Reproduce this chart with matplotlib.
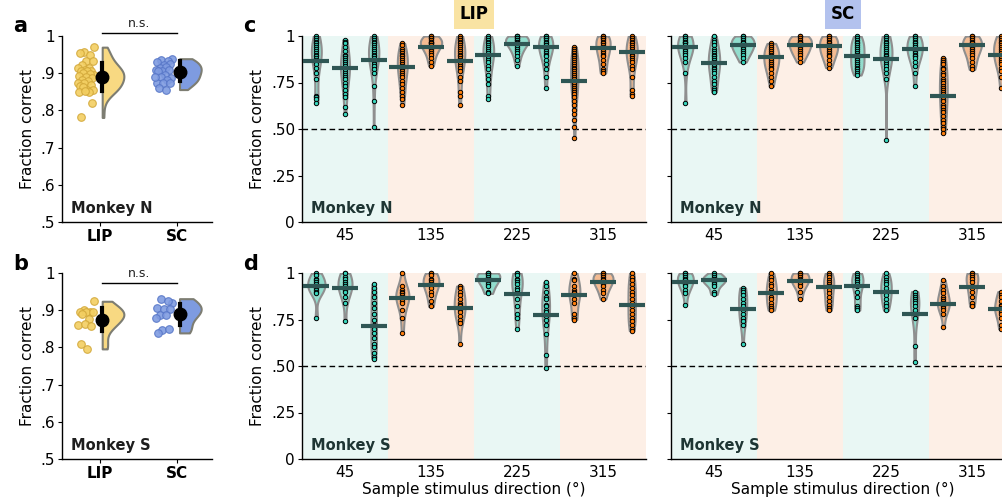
import matplotlib.pyplot as plt
import numpy as np
from matplotlib import cbook, mlab

plt.rcParams['font.family'] = ['DejaVu Sans']
plt.rcParams['axes.linewidth'] = 1.0

# ---- panel a / b: session-average fraction correct ----
areas = ['LIP', 'SC']
lip_n_sessions = [0.970, 0.956, 0.950, 0.954, 0.932, 0.932, 0.923, 0.914, 0.914, 0.909,
                  0.907, 0.907, 0.905, 0.896, 0.900, 0.898, 0.892, 0.889, 0.887, 0.883,
                  0.880, 0.874, 0.874, 0.869, 0.865, 0.856, 0.856, 0.862, 0.850, 0.850,
                  0.851, 0.820, 0.781]
sc_n_sessions = [0.939, 0.936, 0.934, 0.929, 0.923, 0.925, 0.914, 0.916, 0.909, 0.905,
                 0.909, 0.905, 0.896, 0.887, 0.889, 0.883, 0.874, 0.874, 0.874, 0.860,
                 0.856, 0.891]
lip_s_sessions = [0.924, 0.900, 0.895, 0.895, 0.895, 0.895, 0.891, 0.877, 0.861, 0.863,
                  0.857, 0.809, 0.796]
sc_s_sessions = [0.920, 0.931, 0.924, 0.906, 0.904, 0.902, 0.888, 0.886, 0.879, 0.848,
                 0.850, 0.839]
n_means = [0.889, 0.903]
n_ci = [(0.851, 0.927), (0.880, 0.932)]
s_means = [0.875, 0.890]
s_ci = [(0.843, 0.906), (0.861, 0.918)]

# ---- panel c / d: fraction correct per sample direction ----
directions = ['45', '135', '225', '315']

lip_n = [
    [1.0, 0.99, 0.98, 0.97, 0.96, 0.95, 0.94, 0.93, 0.92, 0.91, 0.90, 0.89, 0.88, 0.87, 0.86, 0.85, 0.83, 0.80, 0.77, 0.68, 0.67, 0.66, 0.64],
    [0.98, 0.97, 0.96, 0.94, 0.92, 0.90, 0.89, 0.88, 0.87, 0.86, 0.85, 0.84, 0.83, 0.82, 0.81, 0.80, 0.79, 0.78, 0.77, 0.75, 0.73, 0.71, 0.69, 0.67, 0.62, 0.58],
    [1.0, 0.99, 0.98, 0.97, 0.96, 0.95, 0.94, 0.93, 0.92, 0.91, 0.90, 0.89, 0.88, 0.87, 0.86, 0.85, 0.84, 0.82, 0.80, 0.73, 0.65, 0.51],
    [0.96, 0.95, 0.93, 0.92, 0.91, 0.90, 0.89, 0.88, 0.87, 0.86, 0.85, 0.84, 0.83, 0.82, 0.81, 0.80, 0.79, 0.78, 0.76, 0.74, 0.72, 0.70, 0.68, 0.66, 0.63],
    [1.0, 1.0, 0.99, 0.99, 0.98, 0.97, 0.97, 0.96, 0.96, 0.95, 0.95, 0.94, 0.93, 0.92, 0.91, 0.90, 0.88, 0.86, 0.84],
    [1.0, 0.99, 0.98, 0.97, 0.96, 0.95, 0.94, 0.93, 0.92, 0.91, 0.90, 0.89, 0.88, 0.87, 0.86, 0.85, 0.84, 0.83, 0.81, 0.78, 0.76, 0.70, 0.68, 0.63],
    [1.0, 0.99, 0.98, 0.97, 0.96, 0.95, 0.94, 0.93, 0.92, 0.91, 0.90, 0.89, 0.88, 0.87, 0.86, 0.84, 0.82, 0.79, 0.77, 0.74, 0.68, 0.66],
    [1.0, 1.0, 1.0, 0.99, 0.99, 0.98, 0.98, 0.97, 0.97, 0.96, 0.96, 0.95, 0.94, 0.93, 0.92, 0.91, 0.89, 0.87, 0.84],
    [1.0, 1.0, 0.99, 0.99, 0.98, 0.97, 0.96, 0.95, 0.95, 0.94, 0.93, 0.92, 0.91, 0.90, 0.89, 0.87, 0.85, 0.82, 0.78, 0.72],
    [0.94, 0.93, 0.92, 0.91, 0.90, 0.89, 0.88, 0.87, 0.86, 0.85, 0.84, 0.83, 0.82, 0.81, 0.80, 0.79, 0.78, 0.77, 0.76, 0.75, 0.74, 0.73, 0.72, 0.71, 0.70, 0.69, 0.67, 0.65, 0.63, 0.60, 0.58, 0.55, 0.51, 0.45],
    [1.0, 1.0, 0.99, 0.99, 0.98, 0.97, 0.96, 0.95, 0.94, 0.93, 0.92, 0.91, 0.90, 0.89, 0.87, 0.85, 0.82, 0.81, 0.80],
    [1.0, 0.99, 0.98, 0.97, 0.96, 0.95, 0.94, 0.93, 0.92, 0.91, 0.90, 0.89, 0.88, 0.87, 0.86, 0.84, 0.82, 0.78, 0.71, 0.69, 0.675],
]
lip_n_means = [0.868, 0.829, 0.871, 0.834, 0.943, 0.868, 0.896, 0.955, 0.939, 0.757, 0.937, 0.916]

sc_n = [
    [1.0, 1.0, 0.99, 0.98, 0.97, 0.97, 0.96, 0.95, 0.94, 0.93, 0.92, 0.91, 0.90, 0.88, 0.86, 0.80, 0.64],
    [1.0, 0.98, 0.97, 0.95, 0.93, 0.92, 0.91, 0.90, 0.89, 0.88, 0.87, 0.86, 0.85, 0.84, 0.83, 0.82, 0.81, 0.80, 0.78, 0.76, 0.74, 0.72, 0.71, 0.70],
    [1.0, 1.0, 0.99, 0.98, 0.97, 0.96, 0.96, 0.95, 0.94, 0.93, 0.92, 0.91, 0.90, 0.88, 0.86],
    [0.96, 0.95, 0.94, 0.93, 0.92, 0.91, 0.90, 0.89, 0.88, 0.87, 0.86, 0.85, 0.84, 0.83, 0.82, 0.80, 0.78, 0.76, 0.73],
    [1.0, 1.0, 0.99, 0.98, 0.97, 0.97, 0.96, 0.95, 0.94, 0.93, 0.92, 0.91, 0.90, 0.88, 0.86],
    [1.0, 1.0, 0.99, 0.98, 0.97, 0.96, 0.95, 0.94, 0.93, 0.92, 0.91, 0.90, 0.89, 0.87, 0.85, 0.83],
    [1.0, 0.99, 0.98, 0.97, 0.96, 0.95, 0.94, 0.93, 0.92, 0.91, 0.90, 0.89, 0.88, 0.87, 0.86, 0.85, 0.84, 0.83, 0.82, 0.81, 0.80, 0.79],
    [1.0, 0.99, 0.98, 0.97, 0.96, 0.95, 0.94, 0.93, 0.92, 0.91, 0.90, 0.89, 0.88, 0.87, 0.86, 0.85, 0.84, 0.82, 0.80, 0.77, 0.44],
    [1.0, 1.0, 0.99, 0.98, 0.97, 0.96, 0.95, 0.94, 0.93, 0.92, 0.91, 0.90, 0.89, 0.88, 0.86, 0.84, 0.80, 0.73],
    [0.88, 0.87, 0.86, 0.85, 0.83, 0.82, 0.80, 0.79, 0.77, 0.76, 0.75, 0.73, 0.72, 0.71, 0.70, 0.69, 0.68, 0.66, 0.65, 0.63, 0.62, 0.60, 0.59, 0.57, 0.55, 0.53, 0.51, 0.50, 0.48],
    [1.0, 1.0, 0.99, 0.98, 0.97, 0.96, 0.96, 0.95, 0.94, 0.93, 0.92, 0.91, 0.90, 0.88, 0.86, 0.84, 0.82],
    [1.0, 0.99, 0.98, 0.97, 0.96, 0.95, 0.94, 0.93, 0.92, 0.91, 0.90, 0.89, 0.88, 0.87, 0.86, 0.85, 0.83, 0.81, 0.78, 0.72],
]
sc_n_means = [0.943, 0.857, 0.954, 0.886, 0.952, 0.946, 0.893, 0.877, 0.930, 0.680, 0.950, 0.898]

lip_s = [
    [1.0, 0.99, 0.97, 0.96, 0.95, 0.94, 0.93, 0.92, 0.91, 0.90, 0.89, 0.76],
    [1.0, 1.0, 0.98, 0.97, 0.95, 0.94, 0.93, 0.92, 0.91, 0.90, 0.87, 0.84, 0.74],
    [0.94, 0.92, 0.90, 0.87, 0.84, 0.81, 0.78, 0.75, 0.72, 0.70, 0.68, 0.65, 0.62, 0.60, 0.57, 0.55, 0.54],
    [1.0, 0.93, 0.91, 0.90, 0.89, 0.88, 0.87, 0.86, 0.85, 0.84, 0.80, 0.76, 0.68],
    [1.0, 1.0, 0.99, 0.97, 0.96, 0.95, 0.94, 0.93, 0.92, 0.90, 0.88, 0.85, 0.82],
    [0.93, 0.92, 0.90, 0.88, 0.86, 0.84, 0.83, 0.82, 0.80, 0.79, 0.77, 0.75, 0.73, 0.62],
    [1.0, 1.0, 1.0, 0.99, 0.98, 0.97, 0.96, 0.95, 0.94, 0.93, 0.90, 0.89],
    [1.0, 1.0, 0.99, 0.97, 0.96, 0.95, 0.94, 0.92, 0.91, 0.89, 0.86, 0.82, 0.78, 0.76, 0.70],
    [0.95, 0.93, 0.90, 0.87, 0.86, 0.83, 0.82, 0.80, 0.79, 0.77, 0.75, 0.72, 0.67, 0.56, 0.49],
    [1.0, 0.97, 0.96, 0.93, 0.91, 0.90, 0.89, 0.88, 0.86, 0.84, 0.78, 0.76, 0.75],
    [1.0, 1.0, 0.99, 0.98, 0.97, 0.96, 0.95, 0.94, 0.93, 0.91, 0.89, 0.86],
    [1.0, 0.98, 0.96, 0.94, 0.92, 0.90, 0.88, 0.86, 0.84, 0.82, 0.80, 0.78, 0.76, 0.74, 0.72, 0.70, 0.69],
]
lip_s_means = [0.930, 0.921, 0.713, 0.866, 0.937, 0.814, 0.961, 0.885, 0.772, 0.884, 0.950, 0.830]

sc_s = [
    [1.0, 1.0, 0.99, 0.98, 0.97, 0.96, 0.95, 0.94, 0.93, 0.91, 0.89, 0.83],
    [1.0, 0.99, 0.98, 0.97, 0.97, 0.96, 0.96, 0.95, 0.94, 0.93, 0.90, 0.885],
    [0.92, 0.91, 0.90, 0.88, 0.86, 0.84, 0.82, 0.80, 0.78, 0.76, 0.74, 0.72, 0.62],
    [1.0, 0.98, 0.96, 0.94, 0.93, 0.91, 0.90, 0.89, 0.87, 0.86, 0.84, 0.82, 0.81, 0.80],
    [1.0, 1.0, 0.99, 0.98, 0.97, 0.96, 0.95, 0.94, 0.93, 0.90, 0.86],
    [1.0, 0.99, 0.98, 0.96, 0.95, 0.94, 0.93, 0.91, 0.89, 0.87, 0.85, 0.83, 0.81, 0.80],
    [1.0, 0.99, 0.98, 0.97, 0.96, 0.95, 0.94, 0.93, 0.90, 0.87, 0.82, 0.81, 0.80],
    [1.0, 0.98, 0.96, 0.95, 0.94, 0.92, 0.90, 0.89, 0.88, 0.86, 0.84, 0.82, 0.80],
    [0.90, 0.88, 0.87, 0.86, 0.85, 0.84, 0.82, 0.80, 0.78, 0.76, 0.61, 0.52],
    [0.96, 0.93, 0.91, 0.89, 0.87, 0.86, 0.85, 0.84, 0.83, 0.82, 0.81, 0.80, 0.78, 0.71],
    [1.0, 1.0, 0.99, 0.98, 0.97, 0.95, 0.93, 0.92, 0.90, 0.87, 0.84, 0.82],
    [0.90, 0.88, 0.87, 0.85, 0.83, 0.82, 0.81, 0.80, 0.79, 0.78, 0.76, 0.72, 0.70],
]
sc_s_means = [0.950, 0.961, 0.808, 0.892, 0.957, 0.925, 0.928, 0.898, 0.781, 0.835, 0.926, 0.805]

# colours
area_dot = ['#f3cf62', '#7f9be0']
area_dot_edge = ['#d3a93b', '#5877c8']
area_violin = ['#f8d982', '#7e9be0']
dir_dot = ['#38d6bc', '#ff7f0e']
dir_body = ['#92ddcd', '#f4bb92']
dir_bg = ['#e9f7f4', '#fdefe6']
mean_col = '#2f5654'

W, H = 1003, 500
fig = plt.figure(figsize=(W / 100, H / 100), dpi=100)


def box(left, top, right, bottom):
    return [left / W, 1 - bottom / H, (right - left) / W, (bottom - top) / H]


def kde(X, coords):
    return mlab.GaussianKDE(X, 'scott').evaluate(coords)


def area_panel(ax, lip, sc, means, cis, monkey, ns_y):
    ax.set_xlim(-0.49, 1.45)
    ax.set_ylim(0.5, 1.0)
    for j, vals in enumerate([lip, sc]):
        vals = np.array(vals)
        # spread the dots sideways (golden-ratio sequence, no randomness)
        off = -0.07 - 0.22 * ((np.arange(len(vals)) * 0.618) % 1)
        ax.scatter(j + off, vals, s=30, c=area_dot[j], edgecolors=area_dot_edge[j],
                   linewidths=0.8, alpha=0.9, zorder=2)
        vp = ax.violinplot([vals], positions=[j + 0.03], widths=0.56, side='high',
                           showextrema=False)
        for b in vp['bodies']:
            b.set_facecolor(area_violin[j])
            b.set_edgecolor('#7d7d72')
            b.set_linewidth(1.5)
            b.set_alpha(1)
        ax.plot([j + 0.03, j + 0.03], cis[j], color='black', lw=3, zorder=4)
        ax.plot(j + 0.03, means[j], 'o', color='black', ms=9, zorder=5)
    ax.plot([0.03, 1.0], [ns_y, ns_y], color='black', lw=1, clip_on=False)
    ax.text(0.51, ns_y + 0.008, 'n.s.', ha='center', va='bottom', fontsize=9, color='#222')
    ax.set_xticks([0, 1])
    ax.set_xticklabels(areas, fontsize=11, fontweight='semibold')
    ax.set_yticks([0.5, 0.6, 0.7, 0.8, 0.9, 1.0])
    ax.set_yticklabels(['.5', '.6', '.7', '.8', '.9', '1'], fontsize=11)
    ax.set_ylabel('Fraction correct', fontsize=11)
    ax.spines[['top', 'right']].set_visible(False)
    ax.tick_params(length=3, pad=2)
    ax.text(0.06, 0.05, monkey, transform=ax.transAxes, fontsize=10.5, fontweight='semibold',
            color='#1e1e1e')


def direction_panel(ax, groups, means, monkey, left_axis, xlabel):
    pos = np.arange(12)
    ax.set_xlim(-0.5, 11.5)
    ax.set_ylim(0, 1.0)
    for k in range(4):
        ax.axvspan(3 * k - 0.5, 3 * k + 2.5, color=dir_bg[k % 2], lw=0, zorder=0)
    stats = cbook.violin_stats(groups, kde, points=200)
    peaks = np.array([s['vals'].max() for s in stats])
    widths = 0.8 * peaks / peaks.max()
    parts = ax.violin(stats, positions=pos, widths=widths, showextrema=False)
    for i, b in enumerate(parts['bodies']):
        b.set_facecolor(dir_body[(i // 3) % 2])
        b.set_edgecolor('#8f8f8f')
        b.set_linewidth(1.5)
        b.set_alpha(1)
        b.set_zorder(2)
    for i, vals in enumerate(groups):
        ax.scatter(np.full(len(vals), pos[i]), vals, s=10, c=dir_dot[(i // 3) % 2],
                   edgecolors='black', linewidths=0.7, zorder=3, clip_on=False)
    ax.hlines(means, pos - 0.45, pos + 0.45, colors=mean_col, lw=3, zorder=4)
    ax.axhline(0.5, color='black', ls=(0, (4, 2.5)), lw=1, zorder=1)
    ax.set_xticks([1, 4, 7, 10])
    ax.set_xticklabels(directions, fontsize=11)
    ax.set_yticks([0, 0.25, 0.5, 0.75, 1.0])
    if left_axis:
        ax.set_yticklabels(['0', '.25', '.50', '.75', '1'], fontsize=11)
        ax.set_ylabel('Fraction correct', fontsize=11)
    else:
        ax.set_yticklabels([])
    if xlabel:
        ax.set_xlabel('Sample stimulus direction (°)', fontsize=11, labelpad=2)
    ax.spines[['top', 'right']].set_visible(False)
    ax.tick_params(axis='y', length=3, pad=2)
    ax.tick_params(axis='x', length=0, pad=4)
    ax.text(0.025, 0.05, monkey, transform=ax.transAxes, fontsize=10.5, fontweight='semibold',
            color='#1e3533')


ax_a = fig.add_axes(box(62, 36, 212, 222))
area_panel(ax_a, lip_n_sessions, sc_n_sessions, n_means, n_ci, 'Monkey N', 1.009)
ax_b = fig.add_axes(box(62, 273, 212, 459))
area_panel(ax_b, lip_s_sessions, sc_s_sessions, s_means, s_ci, 'Monkey S', 0.973)

ax_c1 = fig.add_axes(box(302, 36, 646, 222))
direction_panel(ax_c1, lip_n, lip_n_means, 'Monkey N', True, False)
ax_c2 = fig.add_axes(box(671, 36, 1015, 222))
direction_panel(ax_c2, sc_n, sc_n_means, 'Monkey N', False, False)
ax_d1 = fig.add_axes(box(302, 273, 646, 459))
direction_panel(ax_d1, lip_s, lip_s_means, 'Monkey S', True, True)
ax_d2 = fig.add_axes(box(671, 273, 1015, 459))
direction_panel(ax_d2, sc_s, sc_s_means, 'Monkey S', False, True)

ax_c1.set_title('LIP', fontsize=12, fontweight='bold', pad=12,
                bbox=dict(facecolor='#f9e3a3', edgecolor='none', pad=4))
ax_c2.set_title('SC', fontsize=12, fontweight='bold', pad=12,
                bbox=dict(facecolor='#b3c2ee', edgecolor='none', pad=4))

for lbl, x, y in [('a', 13, 26), ('b', 13, 264), ('c', 243, 26), ('d', 243, 264)]:
    fig.text(x / W, 1 - y / H, lbl, fontsize=15, fontweight='bold', va='center')

fig.savefig('out.png', dpi=100)
